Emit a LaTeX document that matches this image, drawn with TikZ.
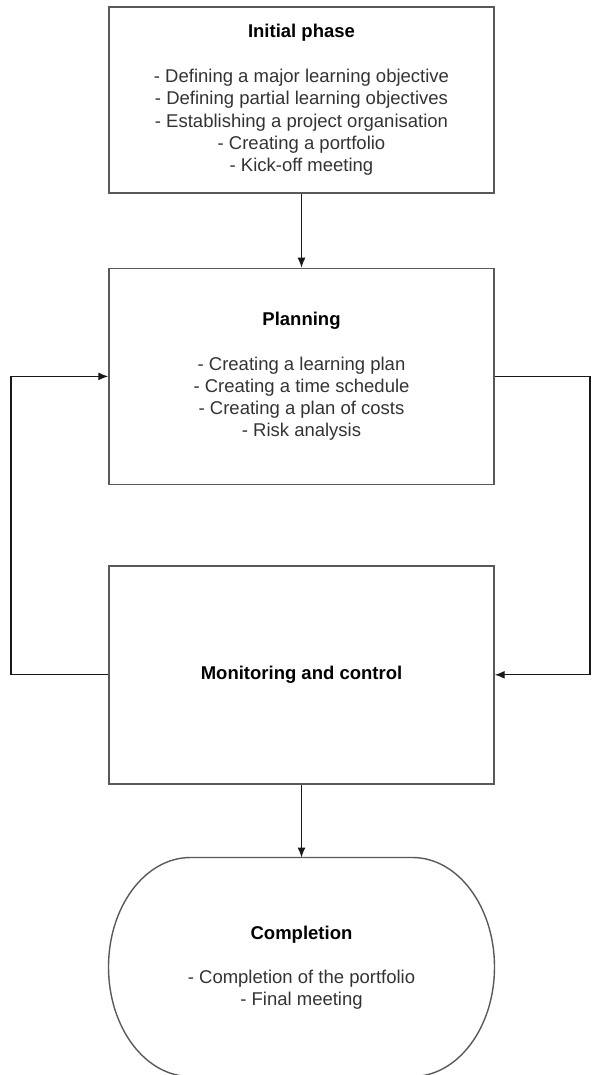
\documentclass[tikz,border=0pt]{standalone}
\usepackage{fontspec}
\setmainfont{Liberation Sans}
\usepackage{tikz}
\usetikzlibrary{arrows.meta}
\usetikzlibrary{positioning}

\begin{document}
\begin{tikzpicture}[x=1pt,y=1pt,node distance=74pt,
  phase/.style={draw=black!65,line width=1.4pt,rectangle,minimum width=385pt,align=center,
    font=\fontsize{18.5}{22.3}\selectfont,text=black!80},
  link/.style={draw=black!90,line width=1.3pt,-{Latex[length=10pt,width=8pt]}}]
  \useasboundingbox (0,0) rectangle (591,-1075);
  \node[phase,minimum height=186pt] (init) at (301.5,-100)
    {\textbf{\color{black}Initial phase}\\[22.3pt]
     - Defining a major learning objective\\
     - Defining partial learning objectives\\
     - Establishing a project organisation\\
     - Creating a portfolio\\
     - Kick-off meeting};
  \node[phase,minimum height=216pt,below=74pt of init] (plan)
    {\textbf{\color{black}Planning}\\[22.3pt]
     - Creating a learning plan\\
     - Creating a time schedule\\
     - Creating a plan of costs\\
     - Risk analysis};
  \node[phase,minimum height=218pt,below=80pt of plan] (mon)
    {\textbf{\color{black}Monitoring and control}};
  \node[phase,draw=none,minimum height=219pt,below=73pt of mon] (done)
    {\textbf{\color{black}Completion}\\[22.3pt]
     - Completion of the portfolio\\
     - Final meeting};
  \draw[draw=black!65,line width=1.4pt] (done.north) ++(-111,0) -- ++(222,0)
    arc[start angle=90,end angle=-90,x radius=82,y radius=109.5] -- ++(-222,0)
    arc[start angle=270,end angle=90,x radius=82,y radius=109.5] -- cycle;
  \coordinate (leftturn) at (11,0);
  \coordinate (rightturn) at (590,0);
  \draw[link] (init) -- (plan);
  \draw[link] (mon) -- (done);
  \draw[link] (mon.west) -- (mon.west -| leftturn) |- (plan.west);
  \draw[link] (plan.east) -- (plan.east -| rightturn) |- (mon.east);
\end{tikzpicture}
\end{document}
